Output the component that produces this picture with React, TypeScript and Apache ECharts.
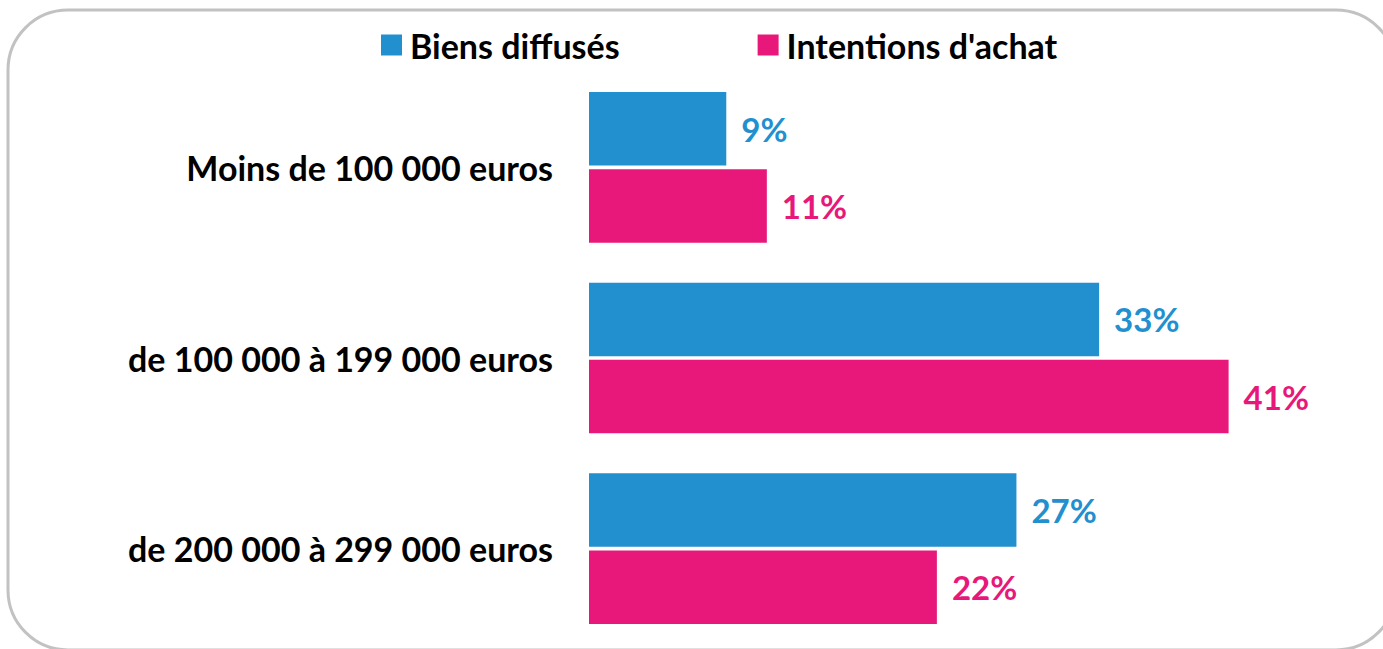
import React, { useEffect, useRef } from "react";
import * as echarts from "echarts";

const categories = [
  "Moins de 100 000 euros",
  "de 100 000 à 199 000 euros",
  "de 200 000 à 299 000 euros",
];
const seriesNames = ["Biens diffusés", "Intentions d'achat"];
const biensDiffuses = [8.8, 32.7, 27.4];
const intentionsAchat = [11.4, 41.0, 22.3];
const colors = ["#228FCF", "#E8187A"];

export default function App() {
  const ref = useRef<HTMLDivElement>(null);
  useEffect(() => {
    if (!ref.current) return;
    const chart = echarts.init(ref.current, null, { renderer: "svg" });
    const font = "Lato";
    const mkSeries = (name: string, data: number[], color: string) => ({
      name,
      type: "bar",
      data,
      barGap: "5%",
      barCategoryGap: "21%",
      itemStyle: { color },
      label: {
        show: true,
        position: "right",
        distance: 15,
        formatter: (p: any) => Math.round(p.value) + "%",
        color,
        fontFamily: font,
        fontWeight: "bold",
        fontSize: 33,
      },
    });
    chart.setOption({
      animation: false,
      graphic: [
        {
          type: "rect",
          shape: { x: 8, y: 10, width: 1388, height: 640, r: 60 },
          style: { fill: "none", stroke: "#C2C2C2", lineWidth: 3 },
          z: -10,
        },
      ],
      legend: {
        left: 376,
        top: 23,
        itemWidth: 21,
        itemHeight: 21,
        itemGap: 138,
        icon: "rect",
        textStyle: {
          fontFamily: font,
          fontWeight: "bold",
          fontSize: 34,
          color: "#000",
          padding: [0, 0, 0, 3],
        },
        data: seriesNames,
      },
      grid: { left: 589, right: 14, top: 72, bottom: 5, containLabel: false },
      xAxis: {
        type: "value",
        min: 0,
        max: 50,
        show: false,
        splitLine: { show: false },
      },
      yAxis: {
        type: "category",
        data: categories,
        inverse: true,
        axisLine: { show: false },
        axisTick: { show: false },
        axisLabel: {
          margin: 36,
          color: "#000",
          fontFamily: font,
          fontWeight: "bold",
          fontSize: 34,
        },
      },
      series: [
        mkSeries(seriesNames[0], biensDiffuses, colors[0]),
        mkSeries(seriesNames[1], intentionsAchat, colors[1]),
      ],
    });
    return () => chart.dispose();
  }, []);
  return (
    <div
      ref={ref}
      style={{ position: "fixed", left: 0, top: 0, width: 1383, height: 649, background: "#fff" }}
    />
  );
}
